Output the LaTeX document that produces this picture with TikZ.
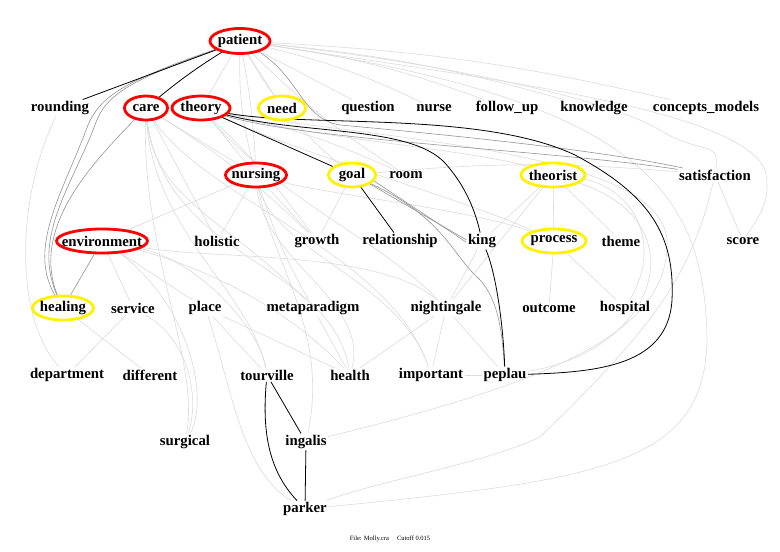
\documentclass[tikz,border=0pt]{standalone}
\usepackage{fontspec}
\setmainfont{Liberation Serif}
\pgfdeclarelayer{bg}
\pgfdeclarelayer{mid}
\pgfsetlayers{bg,mid,main}
\tikzset{
  lbl/.style={font=\fontsize{14.8}{17}\selectfont\bfseries, inner sep=1.5pt},
  ered/.style={draw=red, line width=2.8pt, fill=white},
  eyel/.style={draw=yellow, line width=2.8pt, fill=white},
  lg/.style={draw=black!14, line width=0.6pt},
  dg/.style={draw=black!42, line width=0.6pt},
  bk/.style={draw=black, line width=0.8pt},
}
\begin{document}
\begin{tikzpicture}[x=1pt,y=-1pt]
\useasboundingbox (0,0) rectangle (780,552);
% nodes
\node[lbl] (patient) at (240,41) {patient};
\node[lbl] (rounding) at (60,108) {rounding};
\node[lbl] (care) at (146,108) {care};
\node[lbl] (theory) at (201,108) {theory};
\node[lbl] (need) at (282,108) {need};
\node[lbl] (question) at (368,108) {question};
\node[lbl] (nurse) at (434,108) {nurse};
\node[lbl] (follow_up) at (507,108) {follow\_up};
\node[lbl] (knowledge) at (594,108) {knowledge};
\node[lbl] (concepts_models) at (706,108) {concepts\_models};
\node[lbl] (nursing) at (256,175) {nursing};
\node[lbl] (goal) at (352,175) {goal};
\node[lbl] (room) at (406,175) {room};
\node[lbl] (theorist) at (553,175) {theorist};
\node[lbl] (satisfaction) at (715,175) {satisfaction};
\node[lbl] (environment) at (102,241) {environment};
\node[lbl] (holistic) at (217,241) {holistic};
\node[lbl] (growth) at (317,241) {growth};
\node[lbl] (relationship) at (400,241) {relationship};
\node[lbl] (king) at (482,241) {king};
\node[lbl] (process) at (554,241) {process};
\node[lbl] (theme) at (621,241) {theme};
\node[lbl] (score) at (743,241) {score};
\node[lbl] (healing) at (63,308) {healing};
\node[lbl] (service) at (133,308) {service};
\node[lbl] (place) at (205,308) {place};
\node[lbl] (metaparadigm) at (313,308) {metaparadigm};
\node[lbl] (nightingale) at (446,308) {nightingale};
\node[lbl] (outcome) at (549,308) {outcome};
\node[lbl] (hospital) at (625,308) {hospital};
\node[lbl] (department) at (67,375) {department};
\node[lbl] (different) at (150,375) {different};
\node[lbl] (tourville) at (267,375) {tourville};
\node[lbl] (health) at (350,375) {health};
\node[lbl] (important) at (431,375) {important};
\node[lbl] (peplau) at (505,375) {peplau};
\node[lbl] (surgical) at (185,442) {surgical};
\node[lbl] (ingalis) at (306,442) {ingalis};
\node[lbl] (parker) at (305,509) {parker};
\node[font=\fontsize{6.5}{8}\selectfont, inner sep=0pt] (caption) at (390,539) {File: Molly.cra\quad\ Cutoff 0.015};

% ellipses
\begin{pgfonlayer}{mid}
\path[ered] (patient) ellipse [x radius=30, y radius=12.5];
\path[ered] (care) ellipse [x radius=21.5, y radius=12];
\path[ered] (theory) ellipse [x radius=29, y radius=12];
\path[eyel] (need) ellipse [x radius=23.5, y radius=12];
\path[ered] (nursing) ellipse [x radius=30.5, y radius=12];
\path[eyel] (goal) ellipse [x radius=23.5, y radius=12];
\path[eyel] (theorist) ellipse [x radius=32, y radius=12];
\path[ered] (environment) ellipse [x radius=45.5, y radius=12];
\path[eyel] (process) ellipse [x radius=32, y radius=12];
\path[eyel] (healing) ellipse [x radius=30.5, y radius=12];
\end{pgfonlayer}

\begin{pgfonlayer}{bg}
% ---- light grey edges
\draw[lg] (patient) -- (need);
\draw[lg] (patient) -- (theory);
\draw[lg] (patient) to[bend right=8] (nursing);
\draw[lg] (patient) to[bend left=4] (nursing);
\draw[lg] (patient) -- (question);
\draw[lg] (patient) to[bend left=6] (nurse);
\draw[lg] (patient) to[bend left=6] (follow_up);
\draw[lg] (patient) to[bend left=5] (knowledge);
\draw[lg] (patient) to[bend left=5] (concepts_models);
\draw[lg] (patient) to[bend right=10] (goal);
\draw[lg] (patient) to[bend right=6] (room);
\draw[lg] (patient) .. controls (420,60) and (600,95) .. (660,130) .. controls (700,155) and (720,140) .. (satisfaction);
\draw[lg] (patient) .. controls (500,80) and (740,110) .. (765,170) .. controls (772,200) and (760,215) .. (score);
\draw[lg] (patient) .. controls (640,100) and (705,190) .. (707,340) .. controls (705,465) and (600,480) .. (parker);
\draw[lg] (care) -- (nursing);
\draw[lg] (care) -- (holistic);
\draw[lg] (care) to[bend left=6] (growth);
\draw[lg] (care) .. controls (150,200) and (230,220) .. (metaparadigm);
\draw[lg] (care) .. controls (160,260) and (330,260) .. (health);
\draw[lg] (care) .. controls (150,230) and (250,290) .. (tourville);
\draw[lg] (care) .. controls (140,250) and (200,360) .. (surgical);
\draw[lg] (care) .. controls (200,200) and (390,250) .. (important);
\draw[lg] (theory) -- (nursing);
\draw[lg] (theory) to[bend left=5] (growth);
\draw[lg] (theory) to[bend left=6] (room);
\draw[lg] (theory) .. controls (320,140) and (480,150) .. (theorist);
\draw[lg] (theory) .. controls (330,165) and (470,200) .. (process);
\draw[lg] (theory) .. controls (280,200) and (380,240) .. (nightingale);
\draw[lg] (theory) .. controls (380,140) and (660,150) .. (667,240) .. controls (670,330) and (560,380) .. (ingalis);
\draw[lg] (nursing) -- (environment);
\draw[lg] (nursing) -- (holistic);
\draw[lg] (nursing) -- (growth);
\draw[lg] (nursing) to[bend right=6] (metaparadigm);
\draw[lg] (nursing) .. controls (260,260) and (370,300) .. (health);
\draw[lg] (nursing) .. controls (270,250) and (400,280) .. (important);
\draw[lg] (nursing) .. controls (330,195) and (480,210) .. (process);
\draw[lg] (nursing) .. controls (270,260) and (330,330) .. (ingalis);
\draw[lg] (goal) -- (growth);
\draw[lg] (goal) to[bend left=5] (satisfaction);
\draw[lg] (theorist) -- (king);
\draw[lg] (theorist) -- (process);
\draw[lg] (theorist) -- (theme);
\draw[lg] (theorist) -- (nightingale);
\draw[lg] (theorist) .. controls (630,185) and (665,240) .. (hospital);
\draw[lg] (theorist) .. controls (700,220) and (660,350) .. (peplau);
\draw[lg] (process) -- (outcome);
\draw[lg] (process) -- (hospital);
\draw[lg] (satisfaction) -- (score);
\draw[lg] (satisfaction) .. controls (690,280) and (650,330) .. (540,437) .. controls (480,465) and (380,480) .. (parker);
\draw[lg] (king) -- (nightingale);
\draw[lg] (nightingale) -- (important);
\draw[lg] (nightingale) -- (peplau);
\draw[lg] (nightingale) -- (health);
\draw[lg] (environment) -- (service);
\draw[lg] (environment) -- (place);
\draw[lg] (environment) .. controls (200,260) and (260,330) .. (tourville);
\draw[lg] (environment) .. controls (220,270) and (300,320) .. (health);
\draw[lg] (environment) .. controls (220,260) and (380,250) .. (nightingale);
\draw[lg] (environment) .. controls (190,300) and (210,400) .. (surgical);
\draw[lg] (rounding) .. controls (15,200) and (15,320) .. (department);
\draw[lg] (healing) -- (different);
\draw[lg] (service) -- (department);
\draw[lg] (service) .. controls (190,340) and (200,400) .. (surgical);
\draw[lg] (place) -- (tourville);
\draw[lg] (place) -- (health);
\draw[lg] (place) .. controls (230,380) and (240,470) .. (parker);
\draw[lg] (metaparadigm) -- (health);
\draw[lg] (important) -- (peplau);
% ---- darker grey edges
\draw[dg] (patient) .. controls (130,80) and (105,95) .. (95,125) .. controls (70,190) and (30,240) .. (healing);
\draw[dg] (patient) .. controls (120,82) and (100,98) .. (88,125) .. controls (62,195) and (25,250) .. (healing);
\draw[dg] (care) .. controls (90,165) and (28,230) .. (healing);
\draw[dg] (environment) -- (healing);
\draw[dg] (patient) .. controls (300,75) and (300,118) .. (340,125) .. controls (450,135) and (600,150) .. (satisfaction);
\draw[dg] (theory) .. controls (300,140) and (550,150) .. (satisfaction);
\draw[dg] ([yshift=-1.2pt]goal.east) -- ([yshift=-1.2pt]king.west);
\draw[dg] ([yshift=1.2pt]goal.south east) -- ([yshift=1.2pt]king.west);
\draw[dg] (goal) .. controls (440,215) and (450,250) .. (475,275) .. controls (498,295) and (502,330) .. (peplau);
% ---- black edges
\draw[bk] (patient) -- (rounding);
\draw[bk] (patient) to[bend right=4] (care);
\draw[bk] (theory) -- (goal);
\draw[bk] (goal) -- (relationship);
\draw[bk] (theory) .. controls (300,135) and (410,125) .. (445,163) .. controls (462,182) and (474,205) .. (king);
\draw[bk] (theory) .. controls (300,128) and (480,110) .. (575,155) .. controls (650,195) and (675,235) .. (672,300) .. controls (668,365) and (600,372) .. (peplau);
\draw[bk] (king) .. controls (495,270) and (503,320) .. (peplau);
\draw[bk] (tourville) .. controls (262,430) and (268,470) .. (parker);
\draw[bk] (tourville) -- (ingalis);
\draw[bk] (ingalis) -- (parker);
\end{pgfonlayer}
\end{tikzpicture}
\end{document}
